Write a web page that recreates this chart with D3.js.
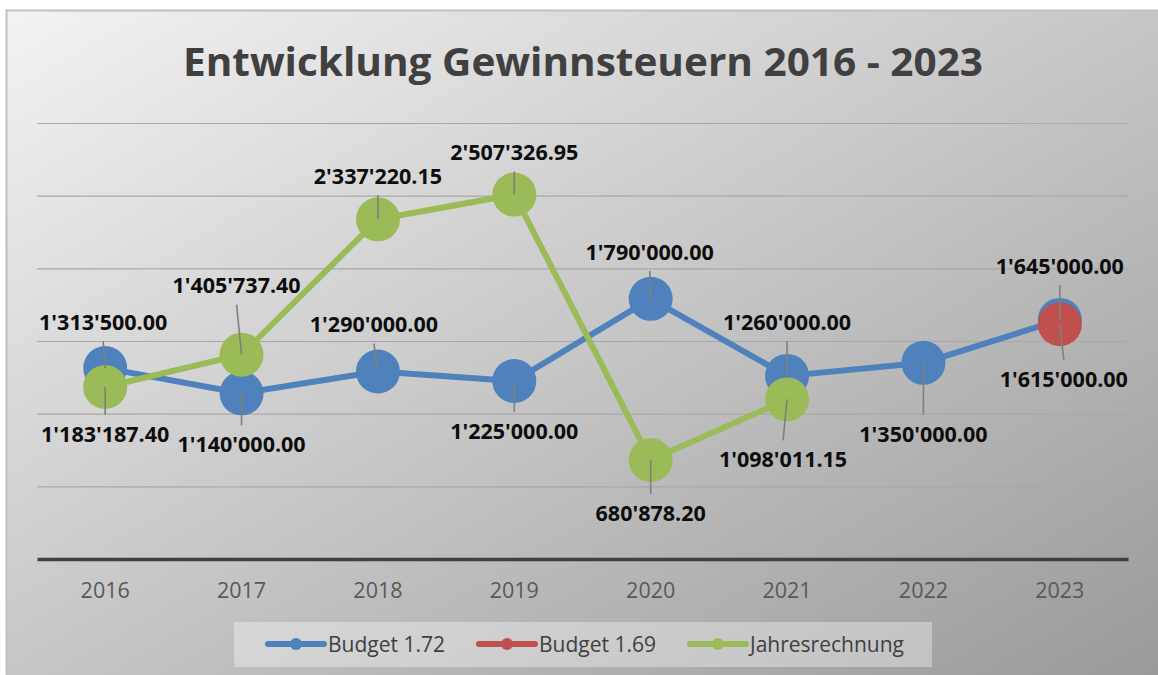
<!DOCTYPE html>
<html>
<head>
<meta charset="utf-8">
<script src="https://cdn.jsdelivr.net/npm/d3@7"></script>
<style>
  html, body { margin: 0; padding: 0; background: #ffffff; }
  svg { display: block; }
</style>
</head>
<body>
<svg id="chart" width="1158" height="675"></svg>
<script>
// chart data
const years = ['2016', '2017', '2018', '2019', '2020', '2021', '2022', '2023'];
const budget172 = [1313500, 1140000, 1290000, 1225000, 1790000, 1260000, 1350000, 1645000];
const budget169 = [null, null, null, null, null, null, null, 1615000];
const jahresrechnung = [1183187.40, 1405737.40, 2337220.15, 2507326.95, 680878.20, 1098011.15, null, null];
const yTicks = [0, 500000, 1000000, 1500000, 2000000, 2500000, 3000000];

// where each data label sits relative to its point (layout only)
const labelShift = {
    'Budget 1.72': [[-2, -46], [0, 51], [-4, -47], [0, 50], [-1, -47], [0, -54], [0, 71], [0, -54]],
    'Budget 1.69': [null, null, null, null, null, null, null, [4, 55]],
    'Jahresrechnung': [[0, 47], [-5, -69], [0, -43], [0, -42], [0, 53], [-4, 60], null, null]
};

const series = [
    {name: 'Budget 1.72', values: budget172, color: '#4f81bd'},
    {name: 'Budget 1.69', values: budget169, color: '#c0504d'},
    {name: 'Jahresrechnung', values: jahresrechnung, color: '#9bbb59'}
];

const svg = d3.select('#chart');
const margins = {left: 37, right: 30, top: 123, bottom: 116};
const width = +svg.attr('width');
const height = +svg.attr('height');

// background with gradient
const defs = svg.append('defs');
const grad = defs.append('linearGradient')
    .attr('id', 'bg')
    .attr('x1', 0).attr('y1', 0)
    .attr('x2', 1).attr('y2', 1);
grad.append('stop').attr('offset', '0%').attr('stop-color', '#f3f3f3');
grad.append('stop').attr('offset', '100%').attr('stop-color', '#999999');

svg.append('rect')
   .attr('x', 6.5).attr('y', 10.5)
   .attr('width', width).attr('height', height)
   .attr('fill', 'url(#bg)')
   .attr('stroke', '#bfbfbf')
   .attr('stroke-width', 2);

// title
svg.append('text')
   .attr('x', 583)
   .attr('y', 76)
   .attr('text-anchor', 'middle')
   .attr('font-family', 'Open Sans, sans-serif')
   .attr('font-weight', 700)
   .attr('font-size', 40)
   .attr('fill', '#404040')
   .attr('textLength', 800)
   .attr('lengthAdjust', 'spacingAndGlyphs')
   .text('Entwicklung Gewinnsteuern 2016 - 2023');

// scales
const xScale = d3.scaleBand()
    .domain(years)
    .range([margins.left, width - margins.right])
    .padding(0);
const xPos = d => xScale(d) + xScale.bandwidth() / 2;
const yScale = d3.scaleLinear()
    .domain([0, 3000000])
    .range([height - margins.bottom, margins.top]);

// gridlines
const gridG = svg.append('g')
    .attr('transform', `translate(${margins.left}, 0)`)
    .call(d3.axisLeft(yScale)
        .tickValues(yTicks.slice(1))
        .tickSize(-(width - margins.left - margins.right))
        .tickFormat(''));
gridG.select('.domain').remove();
gridG.selectAll('.tick line')
     .attr('stroke', '#a8a8a8')
     .attr('stroke-width', 1.2);

// x axis
const xAxisG = svg.append('g')
    .attr('transform', `translate(0, ${yScale(0)})`)
    .call(d3.axisBottom(xScale).tickSize(0).tickPadding(24));
xAxisG.select('.domain')
      .attr('stroke', '#404040')
      .attr('stroke-width', 3.5);
xAxisG.selectAll('text')
      .attr('font-family', 'Open Sans, sans-serif')
      .attr('font-size', 21.5)
      .attr('fill', '#595959');

// lines and markers
const line = d3.line()
    .defined(d => d.v !== null)
    .x(d => xPos(d.year))
    .y(d => yScale(d.v));

series.forEach(s => {
    const pts = s.values.map((v, i) => ({year: years[i], v: v}));
    svg.append('path')
       .datum(pts)
       .attr('fill', 'none')
       .attr('stroke', s.color)
       .attr('stroke-width', 6)
       .attr('stroke-linejoin', 'round')
       .attr('d', line);
    svg.append('g')
       .selectAll('circle')
       .data(pts.filter(d => d.v !== null))
       .join('circle')
       .attr('cx', d => xPos(d.year))
       .attr('cy', d => yScale(d.v))
       .attr('r', 22)
       .attr('fill', s.color);
});

// data labels with leader lines
const fmt = v => {
    const parts = v.toFixed(2).split('.');
    return parts[0].replace(/\B(?=(\d{3})+(?!\d))/g, "'") + '.' + parts[1];
};
const labelG = svg.append('g');
series.forEach(s => {
    s.values.forEach((v, i) => {
        if (v === null) return;
        const shift = labelShift[s.name][i];
        const px = xPos(years[i]);
        const py = yScale(v);
        const lx = px + shift[0];
        const ly = py + shift[1];
        const endY = shift[1] < 0 ? ly + 19 : ly - 19;
        labelG.append('line')
              .attr('x1', px).attr('y1', py)
              .attr('x2', lx).attr('y2', endY)
              .attr('stroke', '#7f7f7f')
              .attr('stroke-width', 1.6);
        labelG.append('text')
              .attr('x', lx)
              .attr('y', ly)
              .attr('dy', '0.36em')
              .attr('text-anchor', 'middle')
              .attr('font-family', 'Open Sans, sans-serif')
              .attr('font-weight', 700)
              .attr('font-size', 21.5)
              .attr('fill', '#0d0d0d')
              .text(fmt(v));
    });
});

// legend
const legend = svg.append('g');
legend.append('rect')
      .attr('x', 234).attr('y', 622)
      .attr('width', 698).attr('height', 45)
      .attr('fill', '#ffffff')
      .attr('opacity', 0.35);
const legendX = [268, 479, 690];
series.forEach((s, i) => {
    const g = legend.append('g').attr('transform', `translate(${legendX[i]}, 644)`);
    g.append('line')
     .attr('x1', 0).attr('x2', 56)
     .attr('stroke', s.color)
     .attr('stroke-width', 6)
     .attr('stroke-linecap', 'round');
    g.append('circle')
     .attr('cx', 28).attr('r', 6)
     .attr('fill', s.color);
    g.append('text')
     .attr('x', 60)
     .attr('dy', '0.36em')
     .attr('font-family', 'Open Sans, sans-serif')
     .attr('font-size', 21)
     .attr('fill', '#404040')
     .text(s.name);
});
</script>
</body>
</html>
